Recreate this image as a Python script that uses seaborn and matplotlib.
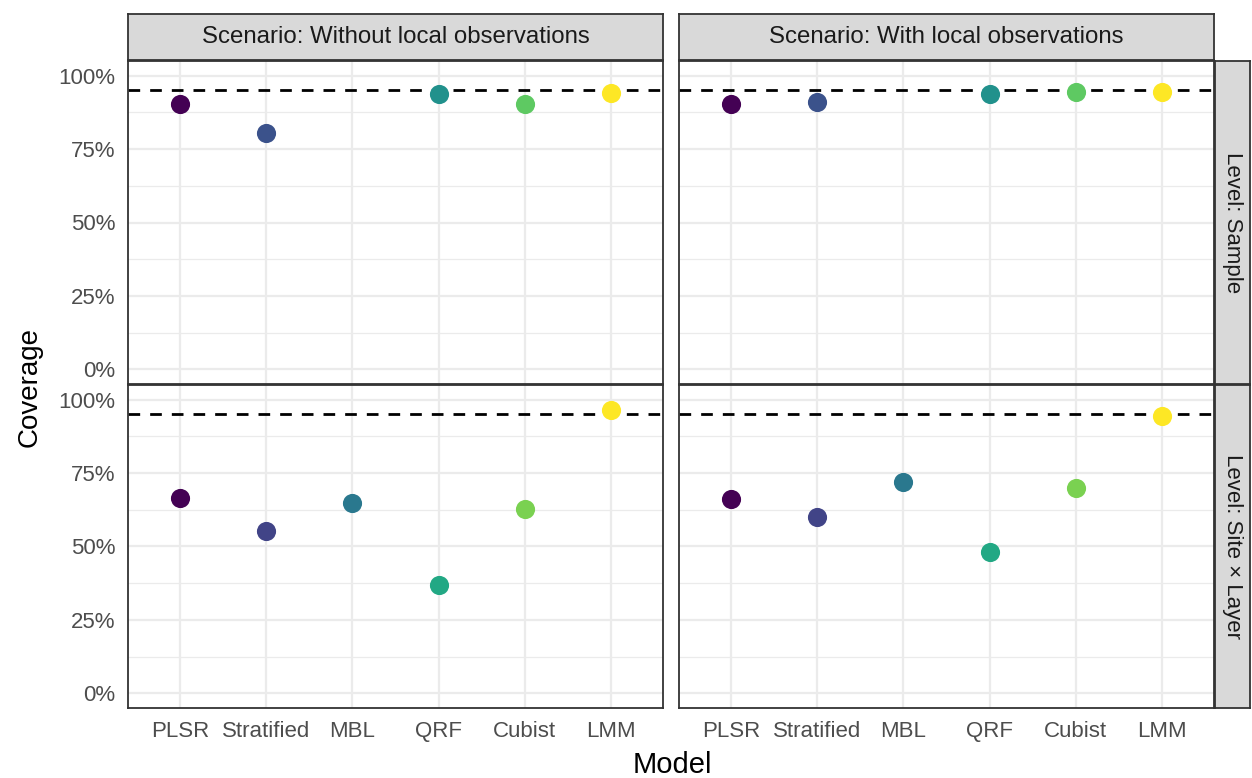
import numpy as np
import pandas as pd
import matplotlib
matplotlib.use("Agg")
import matplotlib.pyplot as plt
import seaborn as sns

models = ["PLSR", "Stratified", "MBL", "QRF", "Cubist", "LMM"]
scenarios = ["Scenario: Without local observations", "Scenario: With local observations"]
levels = ["Level: Sample", "Level: Site × Layer"]

sample_without = [0.904, 0.806, np.nan, 0.936, 0.902, 0.940]
sample_with = [0.904, 0.911, np.nan, 0.939, 0.946, 0.946]
site_without = [0.666, 0.554, 0.647, 0.370, 0.629, 0.964]
site_with = [0.661, 0.600, 0.719, 0.480, 0.699, 0.946]
target = 0.95
ytick_vals = [0, 0.25, 0.5, 0.75, 1.0]
ytick_labels = ["0%", "25%", "50%", "75%", "100%"]

values = {
    (levels[0], scenarios[0]): sample_without,
    (levels[0], scenarios[1]): sample_with,
    (levels[1], scenarios[0]): site_without,
    (levels[1], scenarios[1]): site_with,
}

rows = []
for (lev, sc), vals in values.items():
    for m, v in zip(models, vals):
        rows.append({"Level": lev, "Scenario": sc, "Model": m, "Coverage": v})
df = pd.DataFrame(rows).dropna()

sns.set_theme(style="white")
plt.rcParams["font.family"] = ["Liberation Sans", "DejaVu Sans"]

W, H = 1252, 778
fig = plt.figure(figsize=(W / 100, H / 100), dpi=100)

def box(x0, y0, x1, y1):
    return [x0 / W, 1 - y1 / H, (x1 - x0) / W, (y1 - y0) / H]

col_x = [(128, 663), (679, 1214)]
row_y = [(61, 384), (385, 708)]
edge = "#333333"

for r, lev in enumerate(levels):
    present = [m for m in models if m in set(df[df["Level"] == lev]["Model"])]
    cols = plt.get_cmap("viridis")(np.linspace(0, 1, len(present)))
    pal = {m: matplotlib.colors.to_hex(c) for m, c in zip(present, cols)}
    for c, sc in enumerate(scenarios):
        ax = fig.add_axes(box(col_x[c][0], row_y[r][0], col_x[c][1], row_y[r][1]))
        sub = df[(df["Level"] == lev) & (df["Scenario"] == sc)]
        ax.axhline(target, color="black", linestyle=(0, (4.2, 3.6)), linewidth=2.0, zorder=2)
        sns.stripplot(data=sub, x="Model", y="Coverage", hue="Model", order=models,
                      palette=pal, jitter=False, size=13.8, linewidth=0,
                      legend=False, ax=ax, zorder=3)
        ax.set_xlim(-0.6, 5.6)
        ax.set_ylim(-0.05, 1.05)
        ax.set_xlabel("")
        ax.set_ylabel("")
        ax.set_yticks(ytick_vals)
        ax.set_yticks([0.125, 0.375, 0.625, 0.875], minor=True)
        ax.set_xticks(range(len(models)))
        ax.grid(True, which="major", axis="both", color="#EBEBEB", linewidth=1.6, zorder=0)
        ax.grid(True, which="minor", axis="y", color="#EBEBEB", linewidth=0.9, zorder=0)
        ax.xaxis.grid(True, which="major", color="#EBEBEB", linewidth=1.6)
        ax.set_axisbelow(True)
        if c == 0:
            ax.set_yticklabels(ytick_labels)
        else:
            ax.set_yticklabels([])
        ax.tick_params(axis="both", which="major", length=5, width=1.0, color=edge,
                       labelsize=16, labelcolor="#4D4D4D", pad=4)
        if r == 1:
            ax.set_xticklabels(models)
            ax.tick_params(axis="x", pad=16)
            for lab in ax.get_xticklabels():
                lab.set_verticalalignment("baseline")
        else:
            ax.set_xticklabels([])
        ax.tick_params(axis="both", which="minor", length=0)
        for s in ax.spines.values():
            s.set_color(edge)
            s.set_linewidth(1.3)
        ax.set_facecolor("white")

# column strips
for c, sc in enumerate(scenarios):
    sax = fig.add_axes(box(col_x[c][0], 14, col_x[c][1], 60))
    sax.set_facecolor("#D9D9D9")
    sax.set_xticks([]); sax.set_yticks([])
    for s in sax.spines.values():
        s.set_color(edge); s.set_linewidth(1.3)
    sax.text(0.5, 0.5, sc, ha="center", va="center", fontsize=17.3, color="#1A1A1A",
             transform=sax.transAxes)

# row strips
for r, lev in enumerate(levels):
    sax = fig.add_axes(box(1215, row_y[r][0], 1250, row_y[r][1]))
    sax.set_facecolor("#D9D9D9")
    sax.set_xticks([]); sax.set_yticks([])
    for s in sax.spines.values():
        s.set_color(edge); s.set_linewidth(1.3)
    sax.text(0.5, 0.5, lev, ha="center", va="center", fontsize=16, color="#1A1A1A",
             rotation=-90, transform=sax.transAxes)

fig.text(30 / W, 1 - 387 / H, "Coverage", rotation=90, ha="center", va="center",
         fontsize=20, color="black")
fig.text(672 / W, 1 - 765 / H, "Model", ha="center", va="center", fontsize=21, color="black")

fig.savefig("out.png", dpi=100)
